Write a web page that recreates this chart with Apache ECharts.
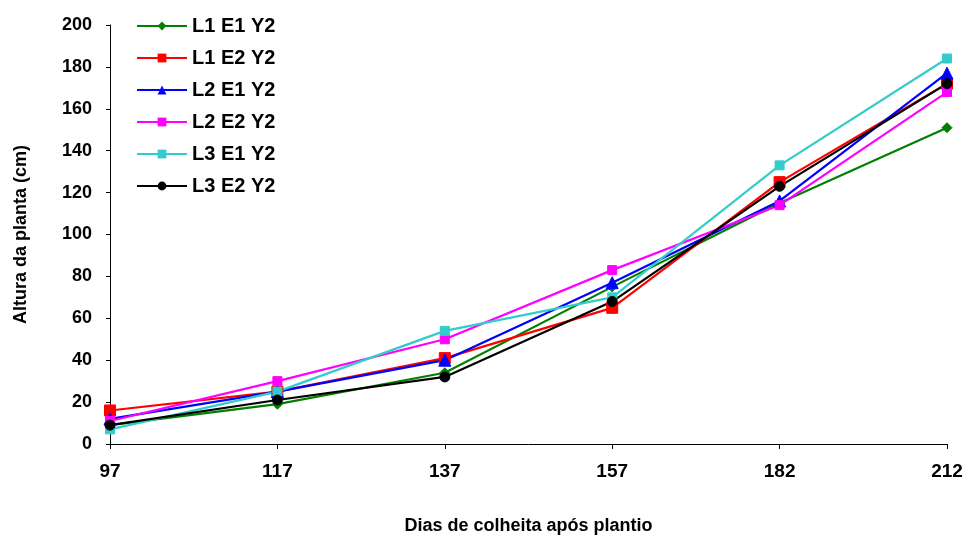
<!DOCTYPE html>
<html>
<head>
<meta charset="utf-8">
<script src="https://cdn.jsdelivr.net/npm/echarts@6/dist/echarts.min.js"></script>
<style>html,body{margin:0;padding:0;background:#fff;}#c{width:967px;height:540px;}</style>
</head>
<body>
<div id="c"></div>
<script>
const categories = ['97', '117', '137', '157', '182', '212'];
const yTicks = [0, 20, 40, 60, 80, 100, 120, 140, 160, 180, 200];
const seriesNames = ['L1 E1 Y2', 'L1 E2 Y2', 'L2 E1 Y2', 'L2 E2 Y2', 'L3 E1 Y2', 'L3 E2 Y2'];
const L1E1 = [9, 19, 34, 75, 115, 151];
const L1E2 = [16, 25, 41, 65, 125, 172];
const L2E1 = [12, 25, 40, 77, 116, 177];
const L2E2 = [11, 30, 50, 83, 114, 168];
const L3E1 = [7, 25, 54, 70, 133, 184];
const L3E2 = [9, 21, 32, 68, 123, 172];
const values = [L1E1, L1E2, L2E1, L2E2, L3E1, L3E2];

const colors = ['#008000', '#FF0000', '#0000FF', '#FF00FF', '#33CCCC', '#000000'];
const symbols = ['diamond', 'rect', 'triangle', 'rect', 'rect', 'circle'];
const sizes = [10, 11, 12, 9, 9, 10];
const font = "'Liberation Sans', Arial, sans-serif";

const chart = echarts.init(document.getElementById('c'), null, {renderer: 'canvas'});
chart.setOption({
  animation: false,
  backgroundColor: '#fff',
  grid: {left: 110, right: 20, top: 25, bottom: 95, containLabel: false},
  legend: {
    orient: 'vertical', left: 131, top: 10,
    itemWidth: 50, itemHeight: 11, itemGap: 10,
    textStyle: {fontFamily: font, fontWeight: 'bold', fontSize: 20, lineHeight: 22, color: '#000'},
    data: seriesNames
  },
  xAxis: {
    type: 'category', data: categories, boundaryGap: false,
    name: 'Dias de colheita após plantio', nameLocation: 'middle', nameGap: 73,
    nameTextStyle: {fontFamily: font, fontWeight: 'bold', fontSize: 18, color: '#000'},
    axisLine: {lineStyle: {color: '#000', width: 1}},
    axisTick: {show: true, length: 5, lineStyle: {color: '#000'}},
    axisLabel: {fontFamily: font, fontWeight: 'bold', fontSize: 19, color: '#000', margin: 18},
    splitLine: {show: false}
  },
  yAxis: {
    type: 'value', min: yTicks[0], max: yTicks[yTicks.length - 1], interval: 20,
    name: 'Altura da planta (cm)', nameLocation: 'middle', nameGap: 80,
    nameTextStyle: {fontFamily: font, fontWeight: 'bold', fontSize: 18, color: '#000'},
    axisLine: {show: true, lineStyle: {color: '#000', width: 1}},
    axisTick: {show: true, length: 4, lineStyle: {color: '#000'}},
    axisLabel: {fontFamily: font, fontWeight: 'bold', fontSize: 18, color: '#000', margin: 18},
    splitLine: {show: false}
  },
  series: seriesNames.map((n, i) => ({
    name: n, type: 'line', data: values[i],
    symbol: symbols[i], symbolSize: sizes[i], showSymbol: true,
    lineStyle: {color: colors[i], width: 2.2},
    itemStyle: {color: colors[i], borderColor: colors[i]},
    emphasis: {disabled: true}
  }))
});
</script>
</body>
</html>
